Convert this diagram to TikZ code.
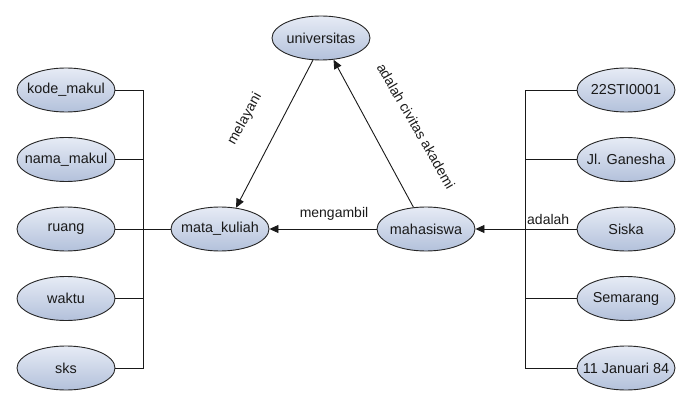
\documentclass[tikz,border=0pt]{standalone}
\usepackage{fontspec}
\setmainfont{Liberation Sans}
\usetikzlibrary{shapes.geometric,arrows.meta}
\definecolor{elltop}{HTML}{E6EBF5}
\definecolor{ellbot}{HTML}{B3C1DB}
\definecolor{txt}{HTML}{1A1A1A}
\begin{document}
\begin{tikzpicture}[x=1pt,y=-1pt,
  ent/.style={ellipse, draw=black!85, line width=0.9pt, top color=elltop, bottom color=ellbot,
    minimum width=98pt, minimum height=44pt, inner sep=0pt, text=txt,
    font=\fontsize{14.4}{16}\selectfont},
  conn/.style={line width=0.9pt, draw=black!90},
  arr/.style={conn, -{Triangle[length=9pt,width=8pt]}},
  lbl/.style={font=\fontsize{14}{16}\selectfont, inner sep=0pt, text=txt}]
\useasboundingbox (0,0) rectangle (687,403);
% left attributes
\node[ent] (kode) at (66,90) {\makebox[0pt]{kode\_makul}};
\node[ent] (nama) at (66,159.5) {\makebox[0pt]{nama\_makul}};
\node[ent] (ruang) at (66,229) {\makebox[0pt]{ruang}};
\node[ent] (waktu) at (66,298.5) {\makebox[0pt]{waktu}};
\node[ent] (sks) at (66,368) {\makebox[0pt]{sks}};
% right attributes
\node[ent] (nim) at (626,90) {\makebox[0pt]{22STI0001}};
\node[ent] (jl) at (626,159.5) {\makebox[0pt]{Jl. Ganesha}};
\node[ent] (siska) at (626,229) {\makebox[0pt]{Siska}};
\node[ent] (smg) at (626,298.5) {\makebox[0pt]{Semarang}};
\node[ent] (tgl) at (626,368) {\makebox[0pt]{11 Januari 84}};
% central
\node[ent] (mata) at (220,229) {\makebox[0pt]{mata\_kuliah}};
\node[ent] (mah) at (426,229) {\makebox[0pt]{mahasiswa}};
\node[ent] (univ) at (321,38) {\makebox[0pt]{universitas}};
% left bar
\coordinate (lt) at (143,90);
\coordinate (lb) at (143,368);
\draw[conn] (kode.east) -- (lt) -- (lb) -- (sks.east);
\draw[conn] (nama.east) -- (nama.east -| lt);
\draw[conn] (waktu.east) -- (waktu.east -| lt);
\draw[conn] (ruang.east) -- (mata.west);
% right bar
\coordinate (rt) at (525,90);
\coordinate (rb) at (525,368);
\draw[conn] (nim.west) -- (rt) -- (rb) -- (tgl.west);
\draw[conn] (jl.west) -- (jl.west -| rt);
\draw[conn] (smg.west) -- (smg.west -| rt);
\draw[arr] (siska.west) -- (mah.east);
% relations
\draw[arr] (mah.west) -- (mata.east);
\draw[arr] (univ.250) -- (mata.53);
\draw[arr] (mah.120) -- (univ.300);
% labels
\node[lbl, rotate=61] (lmel) at (245,119) {melayani};
\node[lbl, rotate=-60] (lciv) at (416,126) {adalah civitas akademi};
\node[lbl] (lmeng) at (334,214) {mengambil};
\node[lbl, anchor=west] (lada) at (527,219) {adalah};
\end{tikzpicture}
\end{document}
